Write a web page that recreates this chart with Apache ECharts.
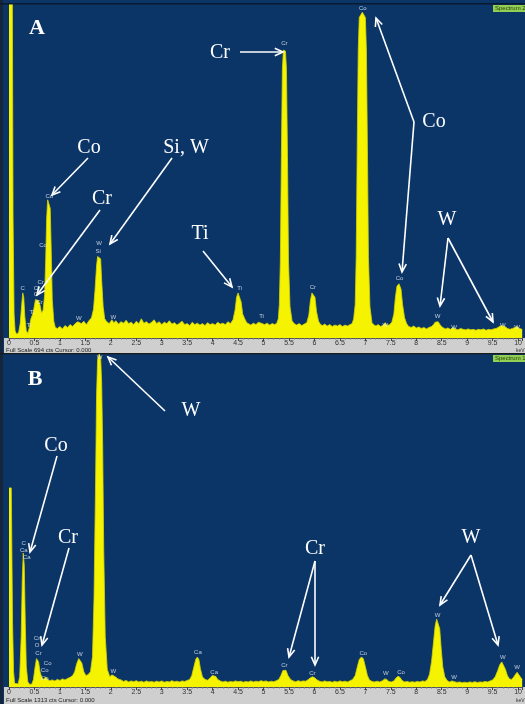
<!DOCTYPE html>
<html><head><meta charset="utf-8">
<script src="https://cdn.jsdelivr.net/npm/echarts@6.0.0/dist/echarts.min.js"></script>
<style>html,body{margin:0;padding:0;background:#0b3567}#c{width:525px;height:704px}</style>
</head><body><div id="c"></div>
<script>
// ---- data (energy keV, counts) ----
const fullScaleA = 694;
const fullScaleB = 1313;
const tickLabels = [0,0.5,1,1.5,2,2.5,3,3.5,4,4.5,5,5.5,6,6.5,7,7.5,8,8.5,9,9.5,10];
const spectrumA = [
[0.00,900],[0.06,900],[0.08,250],[0.10,50],[0.12,15],[0.15,8],[0.19,12],
[0.22,30],[0.25,70],[0.27,94],[0.29,85],[0.31,45],[0.34,15],[0.37,10],
[0.40,22],[0.43,40],[0.46,48],[0.49,62],[0.52,80],[0.55,84],[0.58,78],[0.61,68],[0.64,52],[0.67,58],
[0.70,90],[0.72,160],[0.74,250],[0.76,288],[0.79,292],[0.81,270],[0.83,180],[0.85,80],[0.88,35],[0.91,22],
[0.95,20],[1.00,24],[1.05,19],[1.10,26],[1.15,22],[1.20,28],[1.25,24],[1.30,30],[1.35,34],[1.38,37],[1.42,30],[1.47,35],[1.52,28],[1.57,36],[1.62,42],
[1.66,60],[1.69,100],[1.72,150],[1.74,170],[1.77,173],[1.80,165],[1.82,120],[1.85,65],[1.88,40],[1.92,34],
[1.97,30],[2.02,38],[2.06,32],[2.10,36],[2.15,29],[2.20,34],[2.25,31],[2.30,37],[2.35,30],[2.40,33],[2.45,28],[2.50,35],[2.55,30],[2.60,40],[2.65,31],[2.70,34],[2.75,29],[2.80,33],[2.85,38],[2.90,30],[2.95,34],[3.00,28],[3.05,33],[3.10,30],[3.15,36],[3.20,29],[3.25,32],[3.30,27],[3.35,31],[3.40,35],[3.45,28],[3.50,30],[3.55,26],[3.60,33],[3.65,28],[3.70,31],[3.75,27],[3.80,30],[3.85,26],[3.90,32],[3.95,28],[4.00,30],[4.05,27],[4.10,33],[4.15,29],[4.20,31],[4.25,28],[4.30,34],[4.35,30],
[4.40,38],[4.44,58],[4.47,85],[4.50,94],[4.53,92],[4.56,75],[4.59,50],[4.63,40],[4.67,32],
[4.70,30],[4.75,27],[4.80,31],[4.85,28],[4.90,33],[4.93,36],[4.97,30],[5.02,28],[5.07,31],[5.12,27],[5.17,30],[5.22,28],[5.26,31],
[5.29,40],[5.31,70],[5.33,160],[5.35,380],[5.37,560],[5.39,600],[5.41,604],[5.43,598],[5.45,560],[5.47,380],[5.49,160],[5.52,65],[5.56,36],[5.60,30],
[5.65,27],[5.70,30],[5.75,26],[5.80,29],[5.85,32],
[5.89,48],[5.92,78],[5.95,94],[5.98,96],[6.01,85],[6.04,55],[6.08,35],[6.12,28],
[6.16,26],[6.20,29],[6.25,25],[6.30,28],[6.35,24],[6.40,27],[6.45,25],[6.50,28],[6.55,24],[6.60,27],[6.65,25],[6.70,28],[6.74,30],
[6.77,40],[6.80,70],[6.82,170],[6.84,400],[6.86,600],[6.88,668],[6.94,679],[7.00,668],[7.02,600],[7.04,400],[7.06,170],[7.09,65],[7.13,32],
[7.17,27],[7.21,25],[7.25,28],[7.30,24],[7.35,27],[7.39,32],[7.43,26],[7.48,28],[7.52,33],
[7.56,50],[7.59,85],[7.62,108],[7.66,113],[7.70,102],[7.73,70],[7.77,42],[7.81,30],
[7.85,24],[7.90,22],[7.95,25],[8.00,21],[8.05,23],[8.10,20],[8.15,22],[8.20,19],[8.25,22],[8.30,24],
[8.34,28],[8.37,33],[8.40,36],[8.43,34],[8.47,27],[8.52,22],
[8.57,19],[8.62,21],[8.67,18],[8.72,22],[8.77,19],[8.82,17],[8.87,20],[8.92,18],[8.97,17],[9.02,19],[9.07,17],[9.12,18],[9.17,16],[9.22,18],[9.27,17],[9.32,19],[9.37,16],[9.42,18],[9.47,17],[9.52,19],[9.57,20],[9.62,23],[9.67,26],[9.70,27],[9.74,24],[9.79,20],[9.84,18],[9.89,20],[9.94,22],[9.98,24],[10.02,20],[10.08,18]
];
const spectrumB = [
[0.00,785],[0.045,785],[0.07,250],[0.09,60],[0.11,15],[0.14,8],[0.18,12],
[0.21,40],[0.24,200],[0.26,420],[0.28,528],[0.30,480],[0.32,250],[0.34,80],[0.37,20],[0.41,10],[0.45,12],
[0.48,30],[0.51,75],[0.54,112],[0.56,118],[0.58,100],[0.61,60],[0.64,40],[0.68,30],[0.72,40],[0.76,30],[0.80,25],
[0.85,28],[0.90,24],[0.95,30],[1.00,26],[1.05,32],[1.10,28],[1.15,34],[1.20,38],[1.25,45],
[1.29,60],[1.33,92],[1.37,112],[1.40,114],[1.43,95],[1.47,60],[1.51,45],[1.55,48],[1.60,60],
[1.64,120],[1.67,350],[1.70,800],[1.72,1150],[1.74,1290],[1.77,1313],[1.80,1300],[1.82,1200],[1.84,950],[1.86,550],[1.89,200],[1.93,70],[1.98,40],
[2.02,48],[2.05,55],[2.09,40],[2.14,32],
[2.20,28],[2.25,22],[2.30,26],[2.35,20],[2.40,24],[2.45,21],[2.50,25],[2.55,20],[2.60,23],[2.65,19],[2.70,24],[2.75,20],[2.80,22],[2.85,19],[2.90,23],[2.95,20],[3.00,24],[3.05,19],[3.10,22],[3.15,20],[3.20,25],[3.25,21],[3.30,23],[3.35,20],[3.40,24],[3.45,22],[3.50,26],[3.55,30],
[3.59,45],[3.63,78],[3.67,110],[3.70,118],[3.73,108],[3.76,72],[3.80,40],[3.85,30],[3.90,27],[3.95,35],
[3.99,45],[4.02,50],[4.06,42],[4.10,30],
[4.15,24],[4.20,20],[4.25,23],[4.30,19],[4.35,22],[4.40,20],[4.45,24],[4.50,21],[4.55,23],[4.60,19],[4.65,22],[4.70,20],[4.75,24],[4.80,20],[4.85,23],[4.90,21],[4.95,25],[5.00,22],[5.05,24],[5.10,20],[5.15,23],[5.20,21],[5.25,25],[5.30,30],
[5.34,45],[5.38,65],[5.41,72],[5.44,66],[5.48,45],[5.53,30],
[5.58,24],[5.63,21],[5.68,25],[5.73,22],[5.78,24],[5.83,23],[5.88,30],
[5.92,36],[5.96,40],[6.00,37],[6.05,28],
[6.10,23],[6.15,20],[6.20,24],[6.25,21],[6.30,22],[6.35,19],[6.40,23],[6.45,20],[6.50,24],[6.55,21],[6.60,23],[6.65,20],[6.70,25],[6.75,30],
[6.80,45],[6.84,78],[6.88,108],[6.92,118],[6.96,112],[7.00,80],[7.04,45],[7.08,28],
[7.13,22],[7.18,20],[7.23,23],[7.28,20],[7.33,24],[7.38,32],[7.42,30],[7.46,22],[7.51,20],[7.56,24],[7.60,35],[7.64,42],[7.68,38],[7.72,26],[7.77,20],[7.82,22],[7.87,19],[7.92,21],[7.97,19],[8.02,22],[8.07,20],[8.12,24],[8.17,22],[8.22,30],
[8.26,50],[8.30,100],[8.34,180],[8.37,240],[8.40,268],[8.43,272],[8.46,230],[8.49,150],[8.52,80],[8.56,40],[8.61,25],
[8.65,20],[8.70,24],[8.75,21],[8.80,18],[8.85,20],[8.90,17],[8.95,19],[9.00,17],[9.05,20],[9.10,18],[9.15,21],[9.20,18],[9.25,20],[9.30,19],[9.35,22],[9.40,20],[9.45,24],[9.50,28],
[9.55,40],[9.60,65],[9.64,88],[9.68,99],[9.71,95],[9.75,70],[9.79,45],[9.83,32],[9.87,30],[9.91,38],
[9.95,50],[9.98,58],[10.01,52],[10.05,38],[10.08,30]
];
// small peak identification tags: [energy, counts-position, text]
const tagsA = [
[0.27,104,'C'],[0.45,54,'Ti'],[0.39,27,'Ti'],[0.62,117,'Cr'],[0.55,104,'Cr'],[0.53,92,'O'],[0.60,75,'Cr'],
[0.67,194,'Co'],[0.79,296,'Co'],[1.77,198,'W'],[1.75,181,'Si'],[1.37,42,'W'],[2.05,44,'W'],
[4.53,104,'Ti'],[4.96,46,'Ti'],[5.41,615,'Cr'],[5.97,106,'Cr'],[6.95,686,'Co'],
[7.39,27,'W'],[7.67,125,'Co'],[8.42,46,'W'],[8.74,23,'W'],[9.70,27,'W'],[9.98,23,'W']
];
const tagsB = [
[1.78,1301,'W'],[0.29,568,'C'],[0.29,540,'Ca'],[0.35,513,'Ca'],
[0.55,193,'Cr'],[0.55,166,'O'],[0.58,134,'Cr'],[0.76,95,'Co'],[0.70,67,'Co'],[0.70,35,'Co'],
[1.39,130,'W'],[2.05,63,'W'],[3.71,138,'Ca'],[4.03,59,'Ca'],[5.41,87,'Cr'],[5.96,55,'Cr'],
[6.96,134,'Co'],[7.40,55,'W'],[7.70,59,'Co'],[8.42,284,'W'],[8.74,39,'W'],[9.70,118,'W'],[9.98,79,'W']
];

// ---- chart ----
const BLUE = '#0b3567';
const chart = echarts.init(document.getElementById('c'), null, {renderer:'canvas'});
const grids = [
  {left:9, width:514, top:5, height:333},
  {left:9, width:514, top:354, height:333}
];
function xAx(gi){
  return {type:'value', gridIndex:gi, min:0, max:10.08, interval:0.5,
    axisLine:{show:true, lineStyle:{color:'#555', width:1}},
    axisTick:{show:true, length:3, lineStyle:{color:'#444'}},
    minorTick:{show:true, splitNumber:5, length:1.5, lineStyle:{color:'#777'}},
    splitLine:{show:false},
    axisLabel:{fontSize:7, color:'#333', margin:2, fontFamily:'Arial, Liberation Sans',
      showMaxLabel:false,
      formatter: v => tickLabels.some(t => Math.abs(t - v) < 1e-6) ? String(v) : ''}};
}
function yAx(gi, max){ return {type:'value', gridIndex:gi, min:0, max:max, show:false}; }
function spec(idx, data){
  return {type:'line', xAxisIndex:idx, yAxisIndex:idx, data:data, symbol:'none', silent:true,
    lineStyle:{color:'#d6d400', width:0.8}, areaStyle:{color:'#f6f300', opacity:1}, z:2};
}
function tags(idx, data){
  return {type:'scatter', xAxisIndex:idx, yAxisIndex:idx, data:data, symbolSize:1, silent:true,
    itemStyle:{color:'rgba(0,0,0,0)'}, z:5,
    label:{show:true, position:'inside', formatter:p=>p.data[2], fontSize:6, color:'#e8eef8', fontFamily:'Arial, Liberation Sans'}};
}
chart.setOption({
  animation:false,
  backgroundColor: BLUE,
  grid: grids,
  xAxis: [xAx(0), xAx(1)],
  yAxis: [yAx(0, fullScaleA), yAx(1, fullScaleB)],
  series: [spec(0, spectrumA), spec(1, spectrumB), tags(0, tagsA), tags(1, tagsB)]
});

// ---- annotations ----
const SERIF = 'Liberation Serif, Times New Roman, serif';
const g = [];
g.push({type:'rect', shape:{x:0,y:0,width:3,height:704}, style:{fill:'#16263a'}, z:0});
g.push({type:'rect', shape:{x:0,y:3,width:525,height:1.5}, style:{fill:'#0a1a30'}, z:0});
g.push({type:'rect', shape:{x:4,y:338,width:521,height:15}, style:{fill:'#cfcfcf'}, z:0});
g.push({type:'rect', shape:{x:0,y:353,width:525,height:1.2}, style:{fill:'#1a1a1a'}, z:0});
g.push({type:'rect', shape:{x:4,y:687,width:521,height:17}, style:{fill:'#cfcfcf'}, z:0});
g.push({type:'text', x:6, y:350, style:{text:'Full Scale ' + fullScaleA + ' cts Cursor: 0.000', fontSize:6, fill:'#222', fontFamily:'Arial', verticalAlign:'middle'}, z:10});
g.push({type:'text', x:6, y:700, style:{text:'Full Scale ' + fullScaleB + ' cts Cursor: 0.000', fontSize:6, fill:'#222', fontFamily:'Arial', verticalAlign:'middle'}, z:10});
g.push({type:'text', x:516, y:351, style:{text:'keV', fontSize:5, fill:'#333', fontFamily:'Arial', verticalAlign:'middle'}, z:10});
g.push({type:'text', x:516, y:701, style:{text:'keV', fontSize:5, fill:'#333', fontFamily:'Arial', verticalAlign:'middle'}, z:10});
[[5,'Spectrum 2'],[355,'Spectrum 1']].forEach(([y,t])=>{
  g.push({type:'rect', shape:{x:493,y:y,width:32,height:7}, style:{fill:'#93cf52'}, z:10});
  g.push({type:'text', x:495, y:y+3.5, style:{text:t, fontSize:6, fill:'#244010', fontFamily:'Arial', verticalAlign:'middle'}, z:11});
});
function label(t, x, y, size, bold){
  g.push({type:'text', x:x, y:y, style:{text:t, fontSize:size||20, fill:'#ffffff', fontFamily:SERIF,
    fontWeight: bold ? 'bold' : 'normal', align:'center', verticalAlign:'middle'}, z:100});
}
function arrow(x1,y1,x2,y2){
  const a = Math.atan2(y2-y1, x2-x1), L = 9, w = 0.42;
  g.push({type:'line', shape:{x1:x1,y1:y1,x2:x2,y2:y2}, style:{stroke:'#ffffff', lineWidth:1.6}, z:100});
  g.push({type:'polyline', shape:{points:[[x2-L*Math.cos(a-w), y2-L*Math.sin(a-w)],[x2,y2],[x2-L*Math.cos(a+w), y2-L*Math.sin(a+w)]]},
    style:{stroke:'#ffffff', lineWidth:1.6, fill:null}, z:100});
}
// panel A
label('A', 37, 28, 22, true);
label('Cr', 220, 53); arrow(240,52,283,52);
label('Co', 89, 148); arrow(88,158,52,195);
label('Si, W', 186, 148); arrow(172,158,110,244);
label('Cr', 102, 199); arrow(100,210,37,295);
label('Ti', 200, 234); arrow(203,251,232,287);
label('Co', 434, 122); arrow(414,122,376,18); arrow(414,122,402,272);
label('W', 447, 220); arrow(448,238,440,306); arrow(448,238,493,322);
// panel B
label('B', 35, 379, 22, true);
label('W', 191, 411); arrow(165,411,108,357);
label('Co', 56, 446); arrow(57,456,30,552);
label('Cr', 68, 538); arrow(69,548,42,645);
label('Cr', 315, 549); arrow(315,561,289,657); arrow(315,561,315,665);
label('W', 471, 538); arrow(471,555,440,605); arrow(471,555,498,645);
chart.setOption({graphic: g});
</script>
</body></html>
